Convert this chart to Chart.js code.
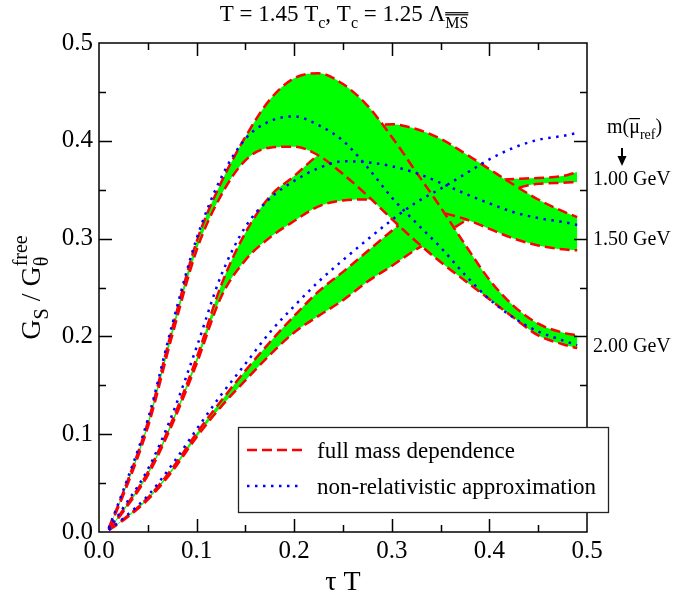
<!DOCTYPE html>
<html>
<head>
<meta charset="utf-8">
<script src="https://cdn.jsdelivr.net/npm/chart.js@4.4.0/dist/chart.umd.min.js"></script>
<style>
  html, body { margin: 0; padding: 0; background: #fff; }
  #wrap { width: 677px; height: 599px; }
</style>
</head>
<body>
<div id="wrap"><canvas id="chart" width="677" height="599"></canvas></div>
<script>
// --- data ---
const tauT = [0.01, 0.025, 0.05, 0.075, 0.1, 0.125, 0.15, 0.175, 0.2, 0.225, 0.25,
              0.275, 0.3, 0.325, 0.35, 0.375, 0.4, 0.425, 0.45, 0.475, 0.49];

// m = 2.00 GeV
const m200Upper  = [0.004, 0.041, 0.112, 0.208, 0.297, 0.357, 0.404, 0.442, 0.464, 0.469, 0.458,
                    0.436, 0.404, 0.368, 0.332, 0.294, 0.258, 0.231, 0.213, 0.204, 0.201];
const m200Lower  = [0.003, 0.038, 0.107, 0.201, 0.288, 0.344, 0.380, 0.393, 0.394, 0.385, 0.366,
                    0.344, 0.320, 0.297, 0.276, 0.257, 0.238, 0.219, 0.201, 0.192, 0.188];
const m200NonRel = [0.004, 0.043, 0.115, 0.212, 0.300, 0.362, 0.402, 0.420, 0.425, 0.416, 0.400,
                    0.373, 0.342, 0.316, 0.291, 0.263, 0.238, 0.219, 0.205, 0.196, 0.191];

// m = 1.50 GeV
const m150Upper  = [0.003, 0.023, 0.061, 0.114, 0.178, 0.252, 0.306, 0.343, 0.364, 0.386, 0.403,
                    0.413, 0.417, 0.412, 0.402, 0.387, 0.371, 0.355, 0.340, 0.328, 0.322];
const m150Lower  = [0.002, 0.021, 0.058, 0.110, 0.172, 0.240, 0.278, 0.301, 0.318, 0.333, 0.339,
                    0.340, 0.338, 0.334, 0.327, 0.320, 0.310, 0.300, 0.293, 0.289, 0.288];
const m150NonRel = [0.003, 0.025, 0.064, 0.120, 0.189, 0.262, 0.312, 0.341, 0.359, 0.372, 0.379,
                    0.378, 0.374, 0.367, 0.357, 0.346, 0.336, 0.327, 0.321, 0.317, 0.314];

// m = 1.00 GeV
const m100Upper  = [0.002, 0.013, 0.035, 0.065, 0.101, 0.134, 0.165, 0.194, 0.221, 0.246, 0.266,
                    0.287, 0.308, 0.328, 0.342, 0.353, 0.359, 0.361, 0.362, 0.364, 0.368];
const m100Lower  = [0.002, 0.012, 0.033, 0.062, 0.097, 0.128, 0.155, 0.181, 0.204, 0.221, 0.237,
                    0.256, 0.272, 0.289, 0.303, 0.318, 0.335, 0.350, 0.356, 0.357, 0.358];
const m100NonRel = [0.002, 0.014, 0.037, 0.069, 0.105, 0.140, 0.172, 0.204, 0.231, 0.256, 0.278,
                    0.299, 0.319, 0.337, 0.351, 0.366, 0.381, 0.393, 0.401, 0.405, 0.408];

const xTickLabels = ['0.0', '0.1', '0.2', '0.3', '0.4', '0.5'];
const yTickLabels = ['0.0', '0.1', '0.2', '0.3', '0.4', '0.5'];
const massLabels = ['1.00 GeV', '1.50 GeV', '2.00 GeV'];
const legendLabels = ['full mass dependence', 'non-relativistic approximation'];

const SERIF = '"Liberation Serif", "Times New Roman", serif';
const RED = '#ff0000', BLUE = '#0000ff', GREEN = '#00ff00';

function pts(ys) {
    return tauT.map((x, i) => ({ x: x, y: ys[i] }));
}
function dashed(ys, fill) {
    return {
        data: pts(ys), borderColor: RED, borderWidth: 2.5, borderDash: [10, 5],
        backgroundColor: GREEN, fill: fill, pointRadius: 0,
        cubicInterpolationMode: 'monotone'
    };
}
function dotted(ys) {
    return {
        data: pts(ys), borderColor: BLUE, borderWidth: 2.5, borderDash: [2.5, 5.5],
        fill: false, pointRadius: 0, cubicInterpolationMode: 'monotone'
    };
}

// draw text with sub/superscripts, left to right from x (or centred)
function richText(ctx, parts, x, y, size, small, align) {
    const f = s => s + 'px ' + SERIF;
    const width = p => {
        if (p.stack) {
            ctx.font = f(small);
            return Math.max(ctx.measureText(p.sub).width, ctx.measureText(p.sup).width);
        }
        ctx.font = f(p.sub || p.sup ? small : size);
        return ctx.measureText(p.sub || p.sup || p.t).width;
    };
    const total = parts.reduce((a, p) => a + width(p), 0);
    let cx = align === 'center' ? x - total / 2 : x;
    ctx.textAlign = 'left';
    ctx.textBaseline = 'alphabetic';
    parts.forEach(p => {
        const w = width(p);
        if (p.stack) {
            ctx.font = f(small);
            ctx.fillText(p.sub, cx, y + size * 0.3);
            ctx.fillText(p.sup, cx, y - size * 0.45);
        } else if (p.sub) {
            ctx.font = f(small);
            ctx.fillText(p.sub, cx, y + size * 0.3);
            if (p.over) {
                ctx.lineWidth = 1.2;
                for (const dy of [small * 0.82, small * 0.95]) {
                    ctx.beginPath();
                    ctx.moveTo(cx, y + size * 0.3 - dy);
                    ctx.lineTo(cx + w, y + size * 0.3 - dy);
                    ctx.stroke();
                }
            }
        } else if (p.sup) {
            ctx.font = f(small);
            ctx.fillText(p.sup, cx, y - size * 0.4);
        } else {
            ctx.font = f(size);
            ctx.fillText(p.t, cx, y);
            if (p.bar) {
                ctx.lineWidth = 1.2;
                ctx.beginPath();
                ctx.moveTo(cx, y - size * 0.72);
                ctx.lineTo(cx + w, y - size * 0.72);
                ctx.stroke();
            }
        }
        cx += w;
    });
}

const decorations = {
    id: 'decorations',
    afterDraw(chart) {
        const ctx = chart.ctx;
        const a = chart.chartArea;
        const xs = chart.scales.x, ys = chart.scales.y;
        ctx.save();
        ctx.fillStyle = '#000';
        ctx.strokeStyle = '#000';

        // frame
        ctx.lineWidth = 1.5;
        ctx.strokeRect(a.left, a.top, a.right - a.left, a.bottom - a.top);

        // inward ticks on all sides, major every 0.1, minor every 0.05
        for (let k = 1; k < 10; k++) {
            const v = k * 0.05;
            const len = k % 2 === 0 ? 13 : 7;
            const px = Math.round(xs.getPixelForValue(v)) + 0.5;
            const py = Math.round(ys.getPixelForValue(v)) + 0.5;
            ctx.beginPath();
            ctx.moveTo(px, a.bottom); ctx.lineTo(px, a.bottom - len);
            ctx.moveTo(px, a.top); ctx.lineTo(px, a.top + len);
            ctx.moveTo(a.left, py); ctx.lineTo(a.left + len, py);
            ctx.moveTo(a.right, py); ctx.lineTo(a.right - len, py);
            ctx.stroke();
        }

        // title
        richText(ctx, [
            { t: 'T = 1.45 T' }, { sub: 'c' }, { t: ', T' }, { sub: 'c' },
            { t: ' = 1.25 \u039B' }, { sub: 'MS', over: true }
        ], 344, 21, 23, 16, 'center');

        // x axis title
        richText(ctx, [{ t: '\u03C4 T' }], 343, 590, 28, 20, 'center');

        // y axis title
        ctx.save();
        ctx.translate(40, (a.top + a.bottom) / 2);
        ctx.rotate(-Math.PI / 2);
        richText(ctx, [
            { t: 'G' }, { sub: 'S' }, { t: ' / G' }, { stack: true, sub: '\u03B8', sup: 'free' }
        ], 0, 0, 28, 20, 'center');
        ctx.restore();

        // mass labels on the right
        richText(ctx, [{ t: 'm(' }, { t: '\u03BC', bar: true }, { sub: 'ref' }, { t: ')' }],
                 607, 133, 20, 14, 'left');
        ctx.lineWidth = 2;
        ctx.beginPath();
        ctx.moveTo(622, 148); ctx.lineTo(622, 158);
        ctx.stroke();
        ctx.beginPath();
        ctx.moveTo(617.5, 156); ctx.lineTo(626.5, 156); ctx.lineTo(622, 166);
        ctx.closePath();
        ctx.fill();
        const massBaselines = [185, 245, 352];
        ctx.font = '20px ' + SERIF;
        ctx.textAlign = 'left';
        ctx.textBaseline = 'alphabetic';
        massLabels.forEach((s, i) => ctx.fillText(s, 593, massBaselines[i]));

        // legend box
        ctx.fillStyle = '#fff';
        ctx.fillRect(238, 427, 370, 85);
        ctx.strokeStyle = '#222';
        ctx.lineWidth = 1.3;
        ctx.strokeRect(238.5, 427.5, 370, 85);
        ctx.lineWidth = 2.5;
        ctx.strokeStyle = RED;
        ctx.setLineDash([10, 5]);
        ctx.beginPath(); ctx.moveTo(247, 450); ctx.lineTo(303, 450); ctx.stroke();
        ctx.strokeStyle = BLUE;
        ctx.setLineDash([2.5, 5.5]);
        ctx.beginPath(); ctx.moveTo(247, 486); ctx.lineTo(303, 486); ctx.stroke();
        ctx.setLineDash([]);
        ctx.fillStyle = '#000';
        ctx.font = '23px ' + SERIF;
        ctx.fillText(legendLabels[0], 317, 458);
        ctx.fillText(legendLabels[1], 317, 494);

        ctx.restore();
    }
};

const ctx = document.getElementById('chart').getContext('2d');
new Chart(ctx, {
    type: 'line',
    data: {
        // first dataset is drawn last (on top)
        datasets: [
            dotted(m200NonRel),
            dotted(m150NonRel),
            dotted(m100NonRel),
            dashed(m200Lower, false),
            dashed(m200Upper, '-1'),
            dashed(m150Lower, false),
            dashed(m150Upper, '-1'),
            dashed(m100Lower, false),
            dashed(m100Upper, '-1')
        ]
    },
    options: {
        responsive: false,
        animation: false,
        layout: { padding: { left: 0, top: 43, right: 90, bottom: 0 } },
        plugins: {
            legend: { display: false },
            tooltip: { enabled: false },
            filler: { propagate: false }
        },
        scales: {
            x: {
                type: 'linear', min: 0, max: 0.5,
                grid: { display: false, drawTicks: false },
                border: { display: false },
                ticks: {
                    stepSize: 0.1, padding: 4, autoSkip: false, maxRotation: 0,
                    color: '#000', font: { family: SERIF, size: 25 },
                    callback: (v, i) => xTickLabels[i]
                },
                afterFit: s => { s.height = 67; }
            },
            y: {
                min: 0, max: 0.5,
                grid: { display: false, drawTicks: false },
                border: { display: false },
                ticks: {
                    stepSize: 0.1, padding: 6, autoSkip: false,
                    color: '#000', font: { family: SERIF, size: 25 },
                    callback: (v, i) => yTickLabels[i]
                },
                afterFit: s => { s.width = 99; }
            }
        }
    },
    plugins: [decorations]
});
</script>
</body>
</html>
